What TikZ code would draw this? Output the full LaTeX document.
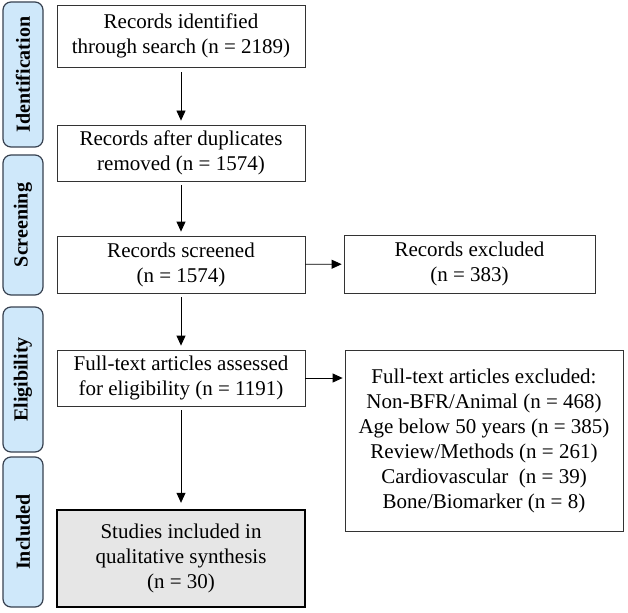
\documentclass[tikz,border=0pt]{standalone}
\usepackage{fontspec}
\setmainfont{Liberation Serif}
\usetikzlibrary{arrows.meta}
\definecolor{stagefill}{RGB}{207,232,250}
\definecolor{stageline}{RGB}{55,65,80}
\definecolor{incfill}{RGB}{230,230,230}

\begin{document}
\begin{tikzpicture}[x=1pt,y=-1pt,
   box/.style={draw=black!80,line width=0.8pt,inner sep=0pt,align=center,
     font=\fontsize{21}{25}\selectfont},
   stage/.style={draw=stageline,fill=stagefill,rounded corners=8pt,line width=1.2pt,
     rotate=90,inner sep=0pt,minimum height=40pt,font=\fontsize{20}{24}\selectfont\bfseries},
   arr/.style={-{Triangle[length=10pt,width=9pt]},line width=0.8pt}]
   \useasboundingbox (0,0) rectangle (628,612);
   % stages on the left
   \begin{scope}[every node/.style={stage}]
    \node[minimum width=145pt] (sid) at (23,74.5) {Identification};
    \node[minimum width=140pt] (ssc) at (23,225) {Screening};
    \node[minimum width=145pt] (sel) at (23,379.5) {Eligibility};
    \node[minimum width=150pt] (sin) at (23,532) {Included};
   \end{scope}
   % flow boxes
   \begin{scope}[every node/.style={box,minimum width=248pt}]
    \node[minimum height=62pt] (b1) at (181,36) {Records identified\\through search (n = 2189)};
    \node[minimum height=56pt] (b2) at (181,153) {Records after duplicates\\removed (n = 1574)};
    \node[minimum height=57pt] (b3) at (181,264.5) {Records screened\\(n = 1574)};
    \node[minimum height=56pt] (b4) at (181,378) {Full-text articles assessed\\for eligibility (n = 1191)};
    \node[minimum height=97pt,fill=incfill,draw=black,line width=2.4pt] (inc) at (181,558.5) {Studies included in\\qualitative synthesis\\(n = 30)};
    \node[minimum width=251pt,minimum height=58pt] (ex1) at (469.5,264) {Records excluded\\(n = 383)};
    \node[minimum width=278pt,minimum height=181pt] (ex2) at (484,440.5) {Full-text articles excluded:\\Non-BFR/Animal (n = 468)\\Age below 50 years (n = 385)\\Review/Methods (n = 261)\\Cardiovascular\ \ (n = 39)\\Bone/Biomarker (n = 8)};
   \end{scope}
   % arrows
   \begin{scope}[every edge/.style={draw=black,arr}]
    \draw (b1) edge[shorten <=5pt,shorten >=4pt] (b2);
    \draw (b2) edge[shorten <=4pt,shorten >=4pt] (b3);
    \draw (b3) edge[shorten <=4pt,shorten >=4pt] (b4);
    \draw (b4) edge[shorten <=4pt,shorten >=6pt] (inc);
    \draw (b3) edge[shorten >=2pt] (ex1);
    \draw (b4.east) edge[shorten >=2pt] (b4.east -| ex2.west);
   \end{scope}
\end{tikzpicture}
\end{document}
